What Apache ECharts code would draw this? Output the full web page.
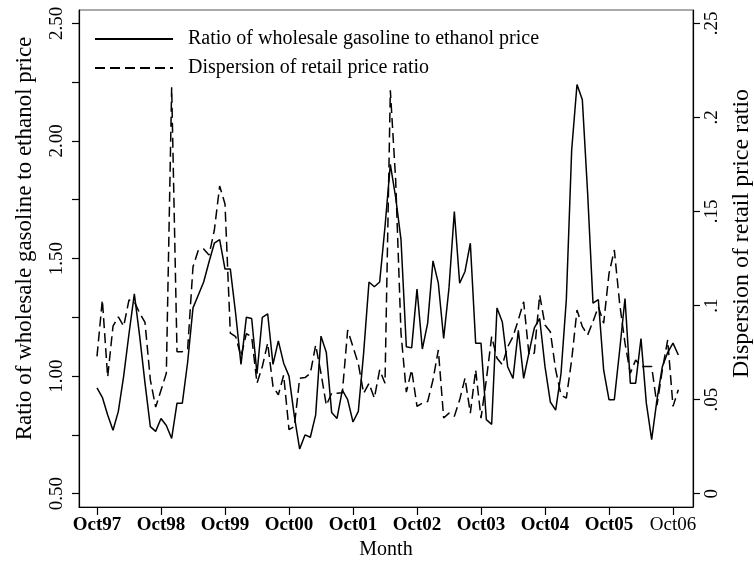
<!DOCTYPE html>
<html>
<head>
<meta charset="utf-8">
<script src="https://cdn.jsdelivr.net/npm/echarts@6/dist/echarts.min.js"></script>
<style>
  html, body { margin: 0; padding: 0; background: #fff; }
  #chart { width: 754px; height: 569px; }
</style>
</head>
<body>
<div id="chart"></div>
<script>
// monthly, Oct97 .. Nov06 (index 0 = Oct97)
var startYear = 1997, startMonth = 9;
var monthNames = ['Jan','Feb','Mar','Apr','May','Jun','Jul','Aug','Sep','Oct','Nov','Dec'];

// ratio of wholesale gasoline to ethanol price (left axis)
var ratioValues = [
    0.95, 0.91, 0.835, 0.77, 0.85, 1.00, 1.18, 1.35, 1.17, 0.97, 0.785, 0.765,
    0.82, 0.79, 0.735, 0.885, 0.885, 1.06, 1.29, 1.345, 1.40, 1.485, 1.565, 1.58,
    1.455, 1.455, 1.265, 1.05, 1.25, 1.245, 1.01, 1.25, 1.265, 1.05, 1.15, 1.055,
    1.00, 0.83, 0.69, 0.75, 0.74, 0.835, 1.17, 1.10, 0.845, 0.82, 0.94, 0.90,
    0.805, 0.85, 1.10, 1.40, 1.38, 1.40, 1.635, 1.90, 1.76, 1.58, 1.125, 1.12,
    1.37, 1.115, 1.225, 1.49, 1.395, 1.16, 1.375, 1.70, 1.395, 1.445, 1.565, 1.14,
    1.14, 0.815, 0.795, 1.29, 1.23, 1.04, 0.99, 1.195, 0.99, 1.10, 1.205, 1.245,
    1.04, 0.89, 0.855, 1.01, 1.325, 1.96, 2.24, 2.175, 1.775, 1.31, 1.325, 1.025,
    0.90, 0.90, 1.11, 1.33, 0.97, 0.97, 1.16, 0.885, 0.73, 0.90, 1.04, 1.10,
    1.14, 1.09
];

// dispersion of retail price ratio (right axis)
var dispersionValues = [
    0.073, 0.103, 0.062, 0.089, 0.094, 0.089, 0.103, 0.102, 0.096, 0.091, 0.0605, 0.046,
    0.055, 0.064, 0.216, 0.0755, 0.0755, 0.077, 0.1206, 0.1295, 0.130, 0.1268, 0.140, 0.1635,
    0.154, 0.0853, 0.0835, 0.073, 0.085, 0.0835, 0.0587, 0.0676, 0.080, 0.057, 0.0525, 0.063,
    0.034, 0.0357, 0.0614, 0.0617, 0.064, 0.079, 0.064, 0.047, 0.0534, 0.0534, 0.0537, 0.087,
    0.078, 0.069, 0.0534, 0.0587, 0.0508, 0.0658, 0.0587, 0.2144, 0.1667, 0.0853, 0.054, 0.0658,
    0.0464, 0.0481, 0.049, 0.0605, 0.0764, 0.0402, 0.0428, 0.0411, 0.0499, 0.0614, 0.0428, 0.0658,
    0.0402, 0.0605, 0.0835, 0.072, 0.0685, 0.078, 0.0835, 0.0924, 0.102, 0.0738, 0.0747, 0.1056,
    0.0897, 0.0861, 0.0658, 0.0525, 0.0508, 0.0711, 0.0976, 0.0888, 0.0844, 0.0915, 0.0994, 0.0906,
    0.117, 0.1295, 0.101, 0.080, 0.064, 0.0711, 0.0676, 0.0676, 0.0676, 0.047, 0.0658, 0.0817,
    0.0464, 0.0552
];

var xTickValues = [0, 12, 24, 36, 48, 60, 72, 84, 96, 108];
var xTickLabels = ['Oct97', 'Oct98', 'Oct99', 'Oct00', 'Oct01', 'Oct02', 'Oct03', 'Oct04', 'Oct05', 'Oct06'];
var leftTickValues = [0.5, 0.75, 1, 1.25, 1.5, 1.75, 2, 2.25, 2.5];
var leftLabelValues = [0.5, 1, 1.5, 2, 2.5];
var rightTickValues = [0, 0.05, 0.1, 0.15, 0.2, 0.25];
var rightTickLabels = ['0', '.05', '.1', '.15', '.2', '.25'];

var monthLabel = function (i) {
    var m = startMonth + i;
    var y = startYear + Math.floor(m / 12);
    return monthNames[m % 12] + String(y).slice(2);
};

var chartDom = document.getElementById('chart');
var myChart = echarts.init(chartDom, null, { renderer: 'canvas' });
var serif = '"Liberation Serif", "DejaVu Serif", serif';

var option = {
    animation: false,
    backgroundColor: '#fff',
    textStyle: { fontFamily: serif, color: '#000' },
    grid: {
        left: 79,
        right: 61,
        top: 10,
        bottom: 62,
        outerBoundsMode: 'none',
        containLabel: false,
        show: true,
        borderColor: '#555',
        borderWidth: 1
    },
    legend: {
        left: 89,
        top: 24,
        orient: 'vertical',
        itemWidth: 78,
        itemHeight: 14,
        itemGap: 9,
        itemStyle: { opacity: 0 },
        textStyle: { fontFamily: serif, fontSize: 20, color: '#000', lineHeight: 20, padding: [0, 0, 0, 10] },
        data: ['Ratio of wholesale gasoline to ethanol price', 'Dispersion of retail price ratio']
    },
    tooltip: {
        trigger: 'axis',
        formatter: function (params) {
            var s = monthLabel(params[0].value[0]);
            params.forEach(function (p) {
                s += '<br/>' + p.marker + p.seriesName + ': ' + p.value[1];
            });
            return s;
        }
    },
    xAxis: {
        type: 'value',
        min: -3.375,
        max: 111.75,
        name: 'Month',
        nameLocation: 'middle',
        nameGap: 23,
        nameTextStyle: { fontFamily: serif, fontSize: 20, color: '#000' },
        splitLine: { show: false },
        axisLine: { show: true, onZero: false, lineStyle: { color: '#000', width: 1.2 } },
        axisTick: { show: true, length: 8, customValues: xTickValues, lineStyle: { color: '#000', width: 1.2 } },
        axisLabel: {
            customValues: xTickValues,
            margin: 9,
            formatter: function (v) {
                var i = Math.round(v / 12);
                return i === 9 ? '{n|' + xTickLabels[i] + '}' : '{b|' + xTickLabels[i] + '}';
            },
            rich: {
                b: { fontFamily: serif, fontSize: 19, fontWeight: 'bold', color: '#000' },
                n: { fontFamily: serif, fontSize: 19, color: '#000' }
            }
        }
    },
    yAxis: [
        {
            type: 'value',
            position: 'left',
            min: 0.4435,
            max: 2.5565,
            name: 'Ratio of wholesale gasoline to ethanol price',
            nameLocation: 'middle',
            nameRotate: 90,
            nameGap: 43,
            nameTextStyle: { fontFamily: serif, fontSize: 23, color: '#000', padding: [0, 0, 0, 40] },
            splitLine: { show: false },
            axisLine: { show: true, onZero: false, lineStyle: { color: '#000', width: 1.2 } },
            axisTick: { show: true, length: 7, customValues: leftTickValues, lineStyle: { color: '#000', width: 1.2 } },
            axisLabel: {
                customValues: leftLabelValues,
                rotate: 90,
                margin: 12,
                fontFamily: serif,
                fontSize: 19,
                color: '#000',
                formatter: function (v) { return v.toFixed(2); }
            }
        },
        {
            type: 'value',
            position: 'right',
            min: -0.00707,
            max: 0.25707,
            name: 'Dispersion of retail price ratio',
            nameLocation: 'middle',
            nameRotate: 90,
            nameGap: 37,
            nameTextStyle: { fontFamily: serif, fontSize: 24, color: '#000', padding: [0, 0, 0, 50] },
            splitLine: { show: false },
            axisLine: { show: true, onZero: false, lineStyle: { color: '#000', width: 1.2 } },
            axisTick: { show: true, length: 7, customValues: rightTickValues, lineStyle: { color: '#000', width: 1.2 } },
            axisLabel: {
                customValues: rightTickValues,
                rotate: 90,
                margin: 10,
                fontFamily: serif,
                fontSize: 19,
                color: '#000',
                formatter: function (v) {
                    var i = Math.round(v / 0.05);
                    return rightTickLabels[i];
                }
            }
        }
    ],
    series: [
        {
            name: 'Ratio of wholesale gasoline to ethanol price',
            type: 'line',
            yAxisIndex: 0,
            symbol: 'none',
            lineStyle: { color: '#000', width: 1.5, type: 'solid' },
            itemStyle: { color: '#000' },
            data: ratioValues.map(function (v, i) { return [i, v]; })
        },
        {
            name: 'Dispersion of retail price ratio',
            type: 'line',
            yAxisIndex: 1,
            symbol: 'none',
            lineStyle: { color: '#000', width: 1.5, type: [10, 5] },
            itemStyle: { color: '#000' },
            data: dispersionValues.map(function (v, i) { return [i, v]; })
        }
    ]
};

option && myChart.setOption(option);
window.addEventListener('resize', function () { myChart.resize(); });
</script>
</body>
</html>
